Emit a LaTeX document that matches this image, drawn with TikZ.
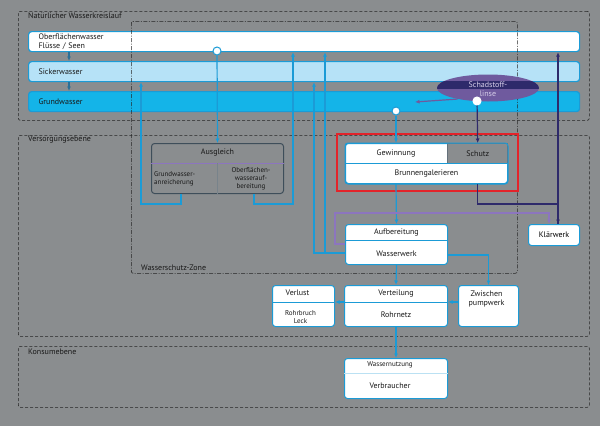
\documentclass[tikz,border=0pt]{standalone}
\usepackage{fontspec}
\setmainfont{PT Sans}
\usetikzlibrary{positioning,arrows.meta,shapes.geometric}

\definecolor{bg}{HTML}{8A8D8F}
\definecolor{wblue}{HTML}{1B9BD6}
\definecolor{sicker}{HTML}{B6E2F7}
\definecolor{grund}{HTML}{14B4E8}
\definecolor{tiefblau}{HTML}{2A6F97}
\definecolor{navy}{HTML}{2E2A6B}
\definecolor{lila}{HTML}{8C75BF}
\definecolor{plum}{HTML}{6F5A9E}
\definecolor{slate}{HTML}{3E4E5A}
\definecolor{rahmen}{HTML}{E3232A}

\tikzset{
  zone/.style={draw=black!85, dash pattern=on 3pt off 2pt, rounded corners=2pt, line width=0.6pt, inner sep=0, anchor=north west},
  band/.style={draw=wblue, line width=1.2pt, rounded corners=3pt, minimum width=551pt, minimum height=20pt, text width=531pt, align=left, inner sep=0, anchor=north west, text=black!90},
  box/.style={draw=wblue, fill=white, line width=1pt, rounded corners=3pt, inner sep=0, anchor=north west},
  sep/.style={draw=wblue, line width=0.8pt},
  dot/.style={circle, draw=wblue, fill=white, line width=1pt, minimum size=8pt, inner sep=0},
  flow/.style={draw=wblue, line width=1.2pt, ->},
  lbl/.style={text=black!90, inner sep=0},
  klein/.style={font=\fontsize{7}{8}\selectfont}
}

\begin{document}
\begin{tikzpicture}[x=1pt, y=-1pt, font=\fontsize{8}{9}\selectfont, >={Latex[length=4.5pt,width=4pt]}]
\useasboundingbox (0,0) rectangle (600,426);
\fill[bg] (0,0) rectangle (600,426);

% ebenen
\node[zone, minimum width=571pt, minimum height=109pt] (natur) at (18,11) {};
\node[lbl, anchor=west] at ([xshift=10pt,yshift=-5pt]natur.north west) {Natürlicher Wasserkreislauf};
\node[zone, minimum width=571pt, minimum height=201pt] (versorg) at (18,135) {};
\node[lbl, anchor=west] at ([xshift=10pt,yshift=-5pt]versorg.north west) {Versorgungsebene};
\node[zone, minimum width=571pt, minimum height=61pt] (konsum) at (18,346) {};
\node[lbl, anchor=west] at ([xshift=10pt,yshift=-6pt]konsum.north west) {Konsumebene};

% wasserkreislauf
\node[band, fill=white] (ober) at (28,31) {Oberflächenwasser\\Flüsse / Seen};
\node[band, fill=sicker] (sick) at (28,61) {Sickerwasser};
\node[band, fill=grund] (grund) at (28,91) {Grundwasser};

\node[zone, dash pattern=on 4pt off 1.5pt on 1pt off 1.5pt, minimum width=386pt, minimum height=252pt] (wsz) at (131,21) {};
\node[lbl, anchor=west] at ([xshift=10pt,yshift=6pt]wsz.south west) {Wasserschutz-Zone};

\node[ellipse, fill=plum, minimum width=102pt, minimum height=27pt, inner sep=0] (linse) at (488,88) {};
\begin{scope}
\clip (488,88) ellipse (51pt and 13.5pt);
\fill[navy] (430,81) rectangle (545,89);
\end{scope}
\node[lbl, text=lila!35!white, align=center] at ([yshift=-1pt]linse.center) {Schadstoff-\\linse};
\coordinate (lz) at (415,102);

\node[dot] (c1) at (217,51) {};
\node[dot] (c2) at (396,111) {};
\node[dot, draw=white] (c3) at (477,101) {};

% ausgleich
\node[box, fill=bg, draw=slate, minimum width=132pt, minimum height=50pt] (aus) at (151,143) {};
\draw[sep, draw=lila] ([yshift=-20pt]aus.north west) -- ([yshift=-20pt]aus.north east);
\draw[sep, draw=slate!70, line width=0.6pt] ([yshift=-20pt]aus.north) -- (aus.south);
\node[lbl] (ausg) at ([yshift=-10pt]aus.north) {Ausgleich};
\node[lbl, klein, align=left, anchor=west] (anr) at ([xshift=3pt,yshift=15pt]aus.south west) {Grundwasser-\\anreicherung};
\node[lbl, klein, align=center] (ofw) at ([xshift=-33pt,yshift=15pt]aus.south east) {Oberflächen-\\wasserauf-\\bereitung};

% gewinnung
\node[box, minimum width=162pt, minimum height=40pt] (gew) at (345,143) {};
\node[lbl, fill=bg, draw=slate!80, line width=0.6pt, minimum width=60pt, minimum height=20pt, anchor=north east] (schutz) at (gew.north east) {Schutz};
\draw[draw=wblue, line width=1pt, rounded corners=3pt] (gew.north west) rectangle (gew.south east);
\draw[sep] ([yshift=-20pt]gew.north west) -- ([yshift=-20pt]gew.north east);
\node[lbl] (gewi) at ([xshift=51pt,yshift=-10pt]gew.north west) {Gewinnung};
\node[lbl] (brunnen) at ([yshift=10pt]gew.south) {Brunnengalerieren};
\draw[rahmen, line width=2.5pt] ([shift={(-8pt,9pt)}]gew.north west) rectangle ([shift={(10pt,-7pt)}]gew.south east);

% wasserwerk
\node[box, minimum width=102pt, minimum height=40pt] (wwbox) at (345,224) {};
\draw[sep] ([yshift=-16pt]wwbox.north west) -- ([yshift=-16pt]wwbox.north east);
\node[lbl] (auf) at ([yshift=-8pt]wwbox.north) {Aufbereitung};
\node[lbl] (ww) at ([yshift=11pt]wwbox.south) {Wasserwerk};

\node[box, minimum width=51pt, minimum height=21pt] (klaer) at (528,224) {Klärwerk};

% verteilung
\node[box, minimum width=103pt, minimum height=41pt] (vert) at (344,285) {};
\node[box, minimum width=62pt, minimum height=41pt, left=9pt of vert] (verlust) {};
\node[box, minimum width=60pt, minimum height=41pt, right=10pt of vert] (zwp) {};
\node[box, minimum width=103pt, minimum height=40pt, below=31pt of vert] (nutz) {};
\draw[sep] ([yshift=-17pt]vert.north west) -- ([yshift=-17pt]vert.north east);
\draw[sep] ([yshift=-17pt]verlust.north west) -- ([yshift=-17pt]verlust.north east);
\draw[sep, draw=wblue!30, line width=0.5pt] ([yshift=-15pt]nutz.north west) -- ([yshift=-15pt]nutz.north east);
\node[lbl] at ([yshift=-9pt]vert.north) {Verteilung};
\node[lbl] at ([yshift=12pt]vert.south) {Rohrnetz};
\node[lbl] at ([xshift=-6pt,yshift=-8pt]verlust.north) {Verlust};
\node[lbl, klein, align=center] at ([xshift=-3pt,yshift=10pt]verlust.south) {Rohrbruch\\Leck};
\node[lbl, align=center] at ([xshift=-2pt,yshift=-14pt]zwp.north) {Zwischen\\pumpwerk};
\node[lbl, klein] at ([xshift=-6pt,yshift=-7pt]nutz.north) {Wassernutzung};
\node[lbl] at ([xshift=-6pt,yshift=13pt]nutz.south) {Verbraucher};

% verbindungen
\coordinate (xb) at (69,0);
\coordinate (xa) at (141,0);
\coordinate (xo) at (293,0);
\coordinate (xs) at (314,0);
\coordinate (xu) at (325,0);
\coordinate (wl) at ([yshift=-29pt]wwbox.north west);
\coordinate (wr) at ([yshift=-31pt]wwbox.north east);
\coordinate (kr) at ([xshift=4pt]klaer.north);
\coordinate (kl) at ([xshift=-5pt]klaer.north);

\draw[flow, draw=tiefblau] (ober.south -| xb) -- (sick.north -| xb);
\draw[flow, draw=tiefblau] (sick.south -| xb) -- (grund.north -| xb);
\draw[flow] (c1) -- (aus.north);
\draw[flow] ([xshift=30pt]aus.south west) -- ++(0,10) -| (xa |- sick.south);
\draw[flow] ([xshift=-30pt]aus.south east) -- ++(0,10) -| (xo |- ober.south);
\draw[flow] (wl) -| (xs |- sick.south);
\draw[flow] (wl -| xu) -- (xu |- ober.south);
\draw[flow] (c2) -- (c2 |- gew.north);
\draw[flow] (c2 |- gew.south) -- (wwbox.north);
\draw[flow, draw=navy] (c3) -- (schutz.north);
\draw[flow, draw=navy] (schutz.south |- gew.south) -- ++(0,20) -| (kr);
\draw[flow, draw=navy] (kr) -- (kr |- ober.south);
\draw[flow, draw=lila] ([yshift=-20pt]wwbox.north west) -- ++(-10,0) -- ++(0,-31) -| (kl);
\draw[flow, draw=plum] (linse.200) -- (lz);
\draw[flow] (wwbox.south) -- (vert.north);
\draw[flow] (wr) -| (zwp.north);
\draw[flow] ([yshift=-17pt]vert.north west) -- ([yshift=-17pt]verlust.north east);
\draw[flow] ([yshift=-17pt]zwp.north west) -- ([yshift=-17pt]vert.north east);
\draw[flow] (vert.south) -- (nutz.north);
\end{tikzpicture}
\end{document}
